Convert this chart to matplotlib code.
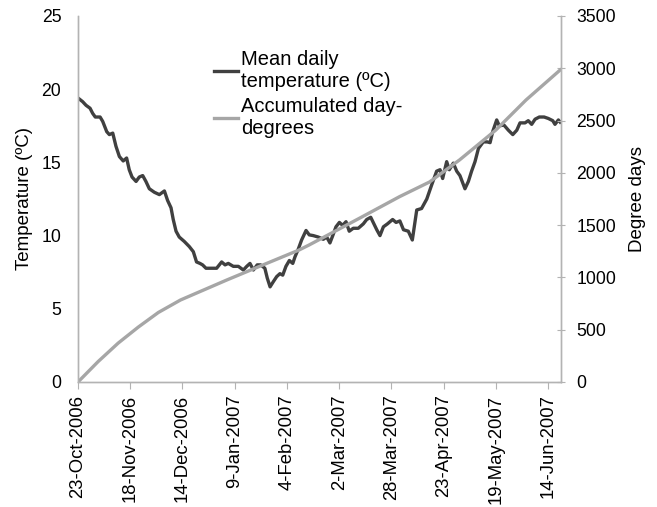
import matplotlib
matplotlib.use('Agg')
import matplotlib.pyplot as plt
import numpy as np
import pandas as pd

plt.rcParams['font.family'] = ['Liberation Sans', 'DejaVu Sans']

# Mean daily temperature (days after 23-Oct-2006)
temp_day = [0, 2.3, 4, 6, 7.3, 8.6, 11, 12.3, 14.3, 15.6, 17.3, 18.9, 20.6, 22.5, 24.2,
            25.5, 26.9, 28.9, 30.5, 32.2, 33.8, 35.5, 38, 40.5, 43, 44.6, 46.3, 47.4,
            48.8, 50.4, 52.9, 55.4, 57.4, 59, 60.7, 62, 63.7, 66.5, 69, 71.5, 73.2,
            74.8, 77.3, 79.8, 82.3, 84, 85.6, 87.3, 89.2, 90.9, 93, 94.2, 95.6, 97.2,
            98.9, 100.5, 101.9, 103.5, 105.2, 106.9, 108, 109.7, 111.3, 113.5, 115.1,
            117.1, 119.6, 122.1, 123.8, 125.4, 126.8, 128.4, 130.1, 131.7, 133.4, 135,
            137, 139.5, 142, 143.7, 145.7, 147.3, 148.7, 150.3, 152, 154, 156.6, 158.3,
            160.2, 162, 164.4, 166.4, 168.6, 171, 173.6, 176, 178.5, 180.2, 181.5,
            183.5, 184.8, 186.8, 188.5, 190.1, 192.6, 194.3, 195.9, 197.6, 199.3,
            201.7, 203.7, 205.1, 206.4, 208.4, 209.7, 212, 214.2, 216.4, 218.4, 220,
            222.5, 224.1, 225.8, 227.5, 229.6, 232, 234.1, 236.3, 237.4, 239.1, 240]
temp_val = [19.4, 19.15, 18.9, 18.7, 18.35, 18.1, 18.1, 17.8, 17.1, 16.9, 17.0, 16.1,
            15.4, 15.1, 15.3, 14.5, 14.0, 13.7, 14.0, 14.1, 13.7, 13.2, 12.96, 12.8,
            13.05, 12.4, 11.9, 11.1, 10.3, 9.9, 9.6, 9.25, 8.9, 8.2, 8.1, 8.0, 7.77,
            7.77, 7.77, 8.2, 8.0, 8.1, 7.9, 7.9, 7.65, 7.9, 8.1, 7.65, 8.0, 8.0, 7.77,
            7.1, 6.5, 6.85, 7.2, 7.4, 7.3, 7.9, 8.3, 8.1, 8.55, 9.1, 9.7, 10.35, 10.05,
            10.0, 9.9, 9.75, 9.9, 9.5, 10.0, 10.6, 10.9, 10.7, 10.95, 10.3, 10.5, 10.5,
            10.8, 11.1, 11.25, 10.8, 10.4, 10.0, 10.6, 10.8, 11.1, 10.9, 11.0, 10.4,
            10.3, 9.7, 11.75, 11.85, 12.5, 13.45, 14.4, 14.5, 13.9, 15.05, 14.5, 14.95,
            14.4, 14.1, 13.2, 13.7, 14.4, 15.05, 15.95, 16.4, 16.4, 16.35, 17.1, 17.9,
            17.5, 17.55, 17.2, 16.9, 17.2, 17.7, 17.7, 17.85, 17.6, 17.95, 18.1, 18.1,
            18.0, 17.85, 17.6, 17.9, 17.75]

# Accumulated day-degrees
acc_day = [0, 10, 20, 30, 40, 51, 74, 90, 110, 115, 140, 160, 175, 190, 208, 223, 240]
acc_val = [0, 195, 372, 525, 665, 784, 975, 1103, 1262, 1310, 1565, 1772, 1913, 2125,
           2410, 2697, 2984]

start = pd.Timestamp('2006-10-23')
tick_step = 26
n_ticks = 10

t_dates = start + pd.to_timedelta(temp_day, unit='D')
a_dates = start + pd.to_timedelta(acc_day, unit='D')

fig = plt.figure(figsize=(6.57, 5.07), dpi=100)
ax = fig.add_axes([78/657, 1 - 382/507, (561-78)/657, (382-16)/507])
ax2 = ax.twinx()

l1, = ax.plot(t_dates, temp_val, color='#404040', lw=2.4,
              label='Mean daily\ntemperature (ºC)')
l2, = ax2.plot(a_dates, acc_val, color='#a6a6a6', lw=2.4,
               label='Accumulated day-\ndegrees')

ax.set_xlim(start, start + pd.Timedelta(days=240.4))
ax.set_ylim(0, 25)
ax2.set_ylim(0, 3500)
ax.set_yticks(np.arange(0, 26, 5))
ax2.set_yticks(np.arange(0, 3501, 500))

ticks = [start + pd.Timedelta(days=tick_step * i) for i in range(n_ticks)]
ax.set_xticks(ticks)
ax.set_xticklabels([f"{d.day}-{d.strftime('%b-%Y')}" for d in ticks], rotation=90)

gc = '#b3b3b3'
for a in (ax, ax2):
    a.spines['top'].set_visible(False)
    for s in ('left', 'right', 'bottom'):
        a.spines[s].set_color(gc)
        a.spines[s].set_linewidth(1.0)
ax.tick_params(axis='y', length=0, labelsize=12.7, pad=12)
ax.tick_params(axis='x', length=5, color=gc, labelsize=13.3, pad=4)
ax2.tick_params(axis='y', direction='inout', length=6, color=gc, labelsize=12.7, pad=8)

ax.set_ylabel('Temperature (ºC)', fontsize=13.5, labelpad=6)
ax2.set_ylabel('Degree days', fontsize=13.5, labelpad=9)

fig.legend(handles=[l1, l2], loc='upper left', bbox_to_anchor=(214/657, 1 - 50/507),
           frameon=False, fontsize=14.5, handlelength=1.2, handletextpad=0.15,
           borderpad=0, borderaxespad=0, labelspacing=0.3)

fig.savefig('out.png', dpi=100)
